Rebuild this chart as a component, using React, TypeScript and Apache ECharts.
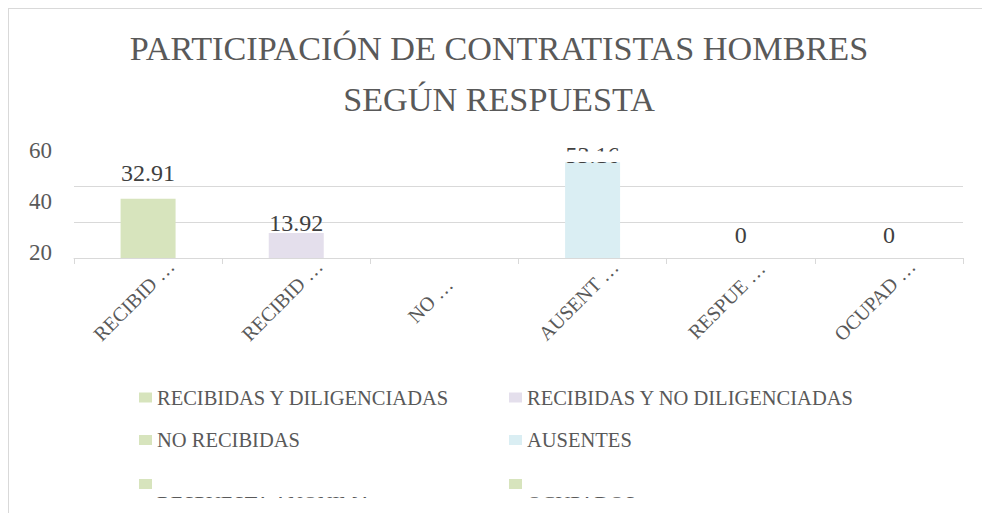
import React, { useEffect, useRef } from "react";
import * as echarts from "echarts";

const chartTitle = "PARTICIPACIÓN DE CONTRATISTAS HOMBRES\nSEGÚN RESPUESTA";
const categories = [
  "RECIBIDAS Y DILIGENCIADAS",
  "RECIBIDAS Y NO DILIGENCIADAS",
  "NO RECIBIDAS",
  "AUSENTES",
  "RESPUESTA ANONIMA",
  "OCUPADOS",
];
const xTickLabels = ["RECIBID …", "RECIBID …", "NO …", "AUSENT …", "RESPUE …", "OCUPAD …"];
const values: (number | null)[] = [32.91, 13.92, null, 53.16, 0, 0];
const yTickLabels = [20, 40, 60];
const colors = ["#D7E4BD", "#E4DFEC", "#D7E4BD", "#DAEEF3", "#D7E4BD", "#D7E4BD"];
const labelDistances = [14, -2.5, 11.5, -5, 11.5, 11.5];

const FONT = "'Liberation Serif', 'Times New Roman', serif";
const TEXT = "#595959";
const GRID_LINE = "#D9D9D9";

const legendCols = [139, 509];
const legendRowTops = [387, 429.5, 445];

export default function App() {
  const ref = useRef<HTMLDivElement>(null);

  useEffect(() => {
    if (!ref.current) return;
    const chart = echarts.init(ref.current, null, { renderer: "svg" });

    const legends = categories.map((name, i) => {
      const row = Math.floor(i / 2);
      const col = i % 2;
      const wrapped = row === 2;
      return {
        data: [name],
        left: legendCols[col],
        top: legendRowTops[row],
        padding: 0,
        itemWidth: 13,
        itemHeight: 10,
        icon: "rect",
        selectedMode: false,
        formatter: wrapped ? (n: string) => "\n" + n : undefined,
        textStyle: {
          fontFamily: FONT,
          fontSize: 20.5,
          color: TEXT,
          lineHeight: wrapped ? 39 : undefined,
        },
      };
    });

    const series = categories.map((name, i) => ({
      type: "bar",
      name,
      stack: "total",
      barWidth: 55,
      xAxisIndex: 0,
      yAxisIndex: 0,
      data: values.map((v, j) => (j === i && v !== null ? v : "-")),
      itemStyle: { color: colors[i] },
      label: {
        show: true,
        position: "top",
        distance: labelDistances[i],
        fontFamily: FONT,
        fontSize: 24,
        color: "#404040",
      },
    }));

    chart.setOption({
      animation: false,
      title: {
        text: chartTitle,
        left: 499,
        top: 23,
        textAlign: "center",
        padding: 0,
        textStyle: {
          fontFamily: FONT,
          fontSize: 34.2,
          fontWeight: "normal",
          color: TEXT,
          lineHeight: 51,
        },
      },
      legend: legends,
      grid: [
        { left: 74, right: 19, top: 150, bottom: 255 },
        { left: 60, width: 10, top: 150, height: 102 },
      ],
      xAxis: [
        {
          type: "category",
          gridIndex: 0,
          data: xTickLabels,
          axisLine: { lineStyle: { color: GRID_LINE, width: 1 } },
          axisTick: { show: true, length: 6, lineStyle: { color: GRID_LINE } },
          axisLabel: {
            rotate: 45,
            interval: 0,
            margin: 28,
            align: "center",
            verticalAlign: "middle",
            fontFamily: FONT,
            fontSize: 20,
            color: TEXT,
            formatter: (v: string) => `{t|${v}}{s| }`,
            rich: {
              t: { fontFamily: FONT, fontSize: 20, color: TEXT },
              s: { width: 40, fontSize: 20 },
            },
          },
        },
        { type: "category", gridIndex: 1, show: false, data: [""] },
      ],
      yAxis: [
        {
          type: "value",
          gridIndex: 0,
          min: 0,
          max: 60,
          interval: 20,
          axisLine: { show: false },
          axisTick: { show: false },
          axisLabel: { show: false },
          splitLine: {
            show: true,
            showMaxLine: false,
            lineStyle: { color: GRID_LINE, width: 1 },
          },
        },
        {
          type: "value",
          gridIndex: 1,
          min: yTickLabels[0],
          max: yTickLabels[yTickLabels.length - 1],
          interval: yTickLabels[1] - yTickLabels[0],
          axisLine: { show: false },
          axisTick: { show: false },
          splitLine: { show: false },
          axisLabel: { fontFamily: FONT, fontSize: 23, color: TEXT, margin: 8 },
        },
      ],
      series,
      graphic: [
        {
          type: "rect",
          z: 100,
          shape: { x: 558, y: 151.5, width: 70, height: 10.5 },
          style: { fill: "#ffffff" },
        },
        {
          type: "rect",
          z: 100,
          shape: { x: 10, y: 498, width: 972, height: 15 },
          style: { fill: "#ffffff" },
        },
      ],
    });

    return () => chart.dispose();
  }, []);

  return (
    <>
      <div
        style={{
          position: "fixed",
          left: 8,
          top: 8,
          width: 1200,
          height: 800,
          borderTop: "1px solid #D9D9D9",
          borderLeft: "1px solid #D9D9D9",
          background: "#ffffff",
        }}
      />
      <div
        ref={ref}
        style={{ position: "fixed", left: 0, top: 0, width: 982, height: 513 }}
      />
    </>
  );
}
